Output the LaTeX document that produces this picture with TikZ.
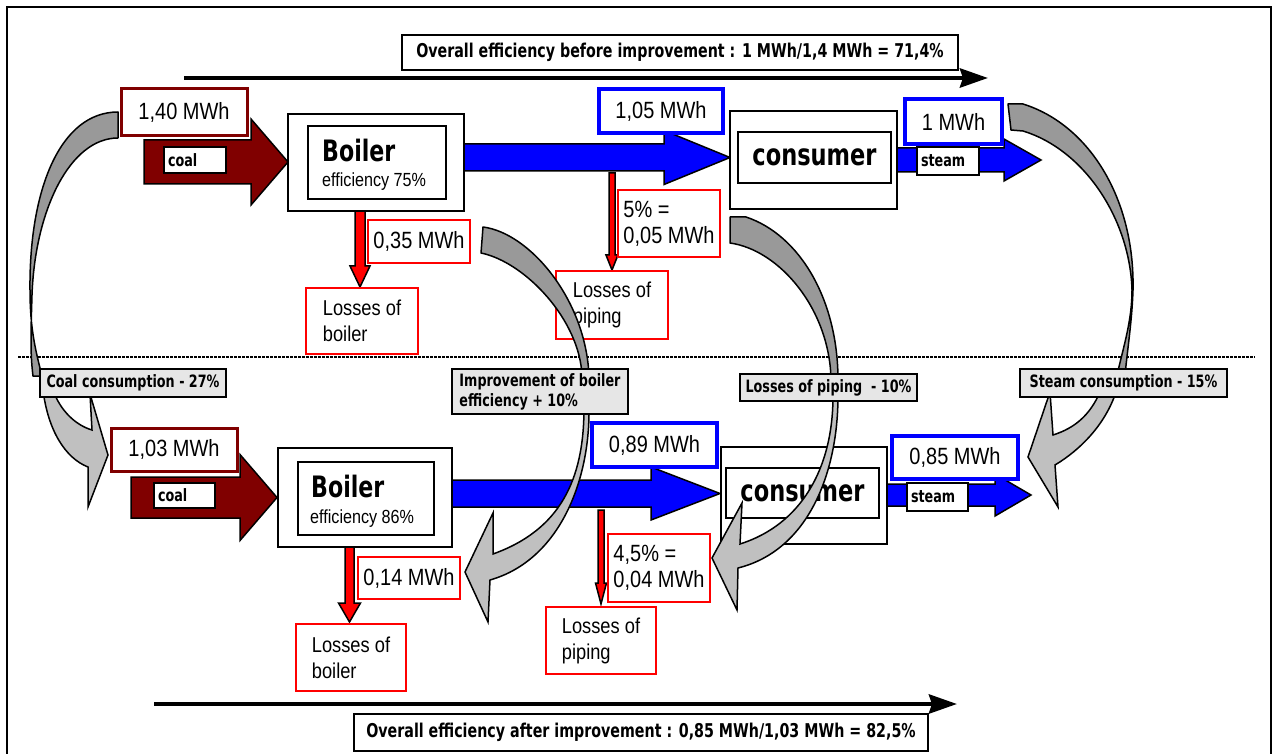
\documentclass[tikz,border=0pt]{standalone}
\usepackage{fontspec}
\usetikzlibrary{arrows.meta}
\newfontfamily\rf[FakeStretch=0.85]{Liberation Sans}
\newfontfamily\bfnt[FakeStretch=0.75]{DejaVu Sans}
\definecolor{dred}{RGB}{128,0,0}
\definecolor{ribdark}{RGB}{153,153,153}
\definecolor{riblight}{RGB}{192,192,192}
\definecolor{lblgray}{RGB}{230,230,230}
\newcommand\hblock[7]{\path[#1] (#2,#3-#6) -- (#4,#3-#6) -- (#4,#3-#7) -- (#5,#3) -- (#4,#3+#7) -- (#4,#3+#6) -- (#2,#3+#6) -- cycle;}
\newcommand\vblock[7]{\path[#1] (#2-#6,#3) -- (#2-#6,#4) -- (#2-#7,#4) -- (#2,#5) -- (#2+#7,#4) -- (#2+#6,#4) -- (#2+#6,#3) -- cycle;}
\begin{document}
\begin{tikzpicture}[x=1pt,y=-1pt,
  vbox/.style={rectangle,inner sep=0,fill=white,font=\rf\fontsize{23.5}{26}\selectfont},
  lossbox/.style={rectangle,inner sep=0,fill=white,draw=red,line width=1.5,align=left,font=\rf\fontsize{21.5}{26}\selectfont},
  frm/.style={rectangle,inner sep=0,draw=black,line width=1.5,fill=white},
  wlbl/.style={rectangle,draw=black,line width=1.5,fill=white,inner xsep=4,inner ysep=0,align=left,font=\bfnt\bfseries\fontsize{17}{20}\selectfont},
  glbl/.style={rectangle,draw=black,line width=1.5,fill=lblgray,inner sep=0,align=left,font=\bfnt\bfseries\fontsize{17}{20}\selectfont},
  ttl/.style={rectangle,draw=black,line width=1.5,fill=white,inner sep=0,font=\bfnt\bfseries\fontsize{19}{22}\selectfont},
  ribU/.style={fill=ribdark,draw=black,line width=1.5,line join=round},
  ribL/.style={fill=riblight,draw=black,line width=1.5,line join=miter},
  blkarrow/.style={draw=black,line width=1.5},
  bigtxt/.style={anchor=base west,inner sep=0,font=\bfnt\bfseries\fontsize{29.5}{30}\selectfont},
  efftxt/.style={anchor=base west,inner sep=0,font=\rf\fontsize{19}{20}\selectfont},
  effarrow/.style={line width=4.5,-{Stealth[length=28pt,width=19pt,inset=3pt]}}
]
\useasboundingbox (0,0) rectangle (1278,754);
% outer frame
\draw[line width=2] (7,760) -- (7,7) -- (1271,7) -- (1271,760);
% separator
\draw[line width=1.5,dash pattern=on 2.5pt off 1.5pt] (18,357) -- (1255,357);

% overall efficiency arrows
\coordinate (ta1) at (184,78);
\coordinate (ta2) at (988,78);
\draw[effarrow] (ta1) -- (ta2);
\coordinate (ba1) at (154,704);
\coordinate (ba2) at (957,704);
\draw[effarrow] (ba1) -- (ba2);
\node[ttl,minimum width=556,minimum height=35] (title1) at (680,52.5) {Overall efficiency before improvement : 1 MWh/1,4 MWh = 71,4\%};
\node[ttl,minimum width=574,minimum height=37] (title2) at (641,732.5) {Overall efficiency after improvement : 0,85 MWh/1,03 MWh = 82,5\%};

% ===== block arrows =====
\hblock{blkarrow,fill=dred}{144}{162}{251}{288}{22}{43}
\hblock{blkarrow,fill=blue}{463}{157.5}{664}{730}{13.5}{27}
\hblock{blkarrow,fill=blue}{897}{160}{1004}{1041}{12}{21}
\hblock{blkarrow,fill=dred}{131}{497.5}{240}{277}{20.5}{43}
\hblock{blkarrow,fill=blue}{452}{493.5}{651}{720}{13.5}{26.5}
\hblock{blkarrow,fill=blue}{887}{495}{995}{1031}{11}{21}
\vblock{blkarrow,fill=red}{360}{211}{266}{287}{5}{10}
\vblock{blkarrow,fill=red}{612}{173}{255}{270}{3}{6}
\vblock{blkarrow,fill=red}{349.5}{547}{603}{622}{4.5}{11}
\vblock{blkarrow,fill=red}{601}{510}{583}{604}{3}{5.5}

% ===== top row =====
\node[frm,minimum width=176,minimum height=97] (boil1) at (376,162.5) {};
\node[frm,line width=2,minimum width=138,minimum height=73] (boil1i) at (377,162.5) {};
\node[bigtxt] (boil1t) at (322,162) {Boiler};
\node[efftxt] (boil1e) at (322,187) {efficiency 75\%};
\node[frm,minimum width=167,minimum height=98] (cons1) at (813.5,160) {};
\node[frm,line width=2,minimum width=153,minimum height=51,font=\bfnt\bfseries\fontsize{30}{30}\selectfont] (cons1i) at (814.5,157.5) {consumer};

\node[vbox,draw=dred,line width=3,minimum width=126,minimum height=47] (in1) at (184,112.5) {1,40 MWh};
\node[wlbl,text width=54,minimum height=26] (coal1) at (195,160) {coal};
\node[vbox,draw=blue,line width=3.5,minimum width=124,minimum height=44] (mid1) at (661,111) {1,05 MWh};
\node[vbox,draw=blue,line width=3.5,minimum width=97,minimum height=45] (out1) at (953.5,121.5) {1 MWh};
\node[wlbl,text width=54,minimum height=28] (steam1) at (948,161) {steam};
\node[vbox,draw=red,line width=1.5,minimum width=102,minimum height=43] (bl1v) at (419,241.5) {0,35 MWh};
\node[vbox,draw=red,line width=1.5,minimum width=102,minimum height=67,align=left] (pl1v) at (669,223.5) {5\% =\\0,05 MWh};
\node[lossbox,minimum width=112,minimum height=66] (bl1) at (362,321) {Losses of\\boiler};
\node[lossbox,minimum width=112,minimum height=68] (pl1) at (612,305) {Losses of\\piping};

% ===== bottom row =====
\node[frm,minimum width=174,minimum height=99] (boil2) at (365,497.5) {};
\node[frm,line width=2,minimum width=136,minimum height=73] (boil2i) at (366,498.5) {};
\node[bigtxt] (boil2t) at (311,497) {Boiler};
\node[efftxt] (boil2e) at (310,523) {efficiency 86\%};
\node[frm,minimum width=166,minimum height=97] (cons2) at (804,495.5) {};
\node[frm,line width=2,minimum width=153,minimum height=50,font=\bfnt\bfseries\fontsize{30}{30}\selectfont] (cons2i) at (802.5,493) {consumer};

\node[vbox,draw=dred,line width=3,minimum width=126,minimum height=43] (in2) at (174,449.5) {1,03 MWh};
\node[wlbl,text width=53,minimum height=25] (coal2) at (184.5,495.5) {coal};
\node[vbox,draw=blue,line width=3.5,minimum width=125,minimum height=44] (mid2) at (654.5,445) {0,89 MWh};
\node[vbox,draw=blue,line width=3.5,minimum width=126,minimum height=43] (out2) at (955,457.5) {0,85 MWh};
\node[wlbl,text width=53,minimum height=28] (steam2) at (937.5,497) {steam};
\node[vbox,draw=red,line width=1.5,minimum width=102,minimum height=42] (bl2v) at (409,578) {0,14 MWh};
\node[vbox,draw=red,line width=1.5,minimum width=102,minimum height=68,align=left] (pl2v) at (659,568) {4,5\% =\\0,04 MWh};
\node[lossbox,minimum width=110,minimum height=67] (bl2) at (351,657.5) {Losses of\\boiler};
\node[lossbox,minimum width=110,minimum height=67] (pl2) at (601,640.5) {Losses of\\piping};

% ===== gray curved arrows =====
% A: coal consumption
\path[ribU] (118,112) .. controls (60,112) and (29,190) .. (30,290) .. controls (30,330) and (36,352) .. (42,376)
  -- (33,376) .. controls (30,352) and (31,330) .. (32,295) .. controls (35,210) and (70,138) .. (118,138) -- cycle;
\path[ribL] (53,390) .. controls (60,410) and (75,425) .. (92,430) -- (90,394) -- (108,455) -- (88,507) -- (88,467)
  .. controls (65,458) and (48,430) .. (43,390) -- cycle;
% B: boiler efficiency
\path[ribU] (483,227) .. controls (530,233) and (586,300) .. (589,376) -- (582,376) .. controls (580,320) and (525,262) .. (481,253) -- cycle;
\path[ribL] (584,408) .. controls (584,480) and (560,530) .. (493,554) -- (493,513) -- (465,572) -- (488,622) -- (490,580)
  .. controls (560,560) and (590,480) .. (589,408) -- cycle;
% C: losses of piping
\path[ribU] (730,217) -- (746,217) .. controls (800,235) and (838,300) .. (838,380) -- (831,380) .. controls (830,310) and (780,250) .. (730,243) -- cycle;
\path[ribL] (833,396) .. controls (833,470) and (800,525) .. (740,544) -- (742,503) -- (712,558) -- (737,610) -- (738,568)
  .. controls (810,550) and (838,470) .. (838,396) -- cycle;
% D: steam consumption
\path[ribU] (1008,104) -- (1023,104) .. controls (1090,125) and (1135,200) .. (1133,290) .. controls (1132,320) and (1128,345) .. (1125,375)
  -- (1117,375) .. controls (1124,345) and (1132,320) .. (1132,290) .. controls (1130,220) and (1085,150) .. (1023,131) -- (1011,130) -- cycle;
\path[ribL] (1100,392) .. controls (1090,415) and (1075,428) .. (1053,435) -- (1050,392) -- (1028,457) -- (1058,507) -- (1055,465)
  .. controls (1080,450) and (1105,425) .. (1116,392) -- cycle;

% gray labels
\node[glbl,minimum width=186,minimum height=28] (lA) at (133,383) {Coal consumption - 27\%};
\node[glbl,minimum width=176,minimum height=45] (lB) at (540,391.5) {Improvement of boiler\\efficiency + 10\%};
\node[glbl,minimum width=177,minimum height=27] (lC) at (828.5,387.5) {Losses of piping~ - 10\%};
\node[glbl,minimum width=207,minimum height=28] (lD) at (1123.5,383) {Steam consumption - 15\%};
\end{tikzpicture}
\end{document}
